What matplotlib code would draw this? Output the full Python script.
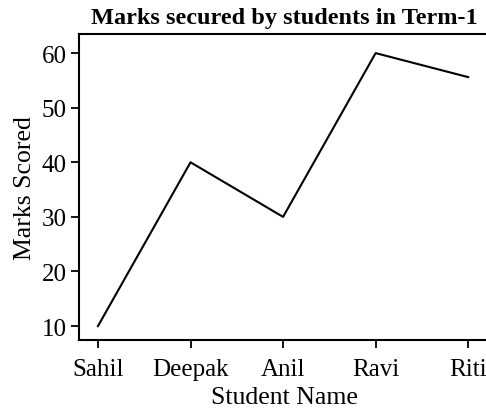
import matplotlib
matplotlib.use("Agg")
import matplotlib.pyplot as plt

students = ["Sahil", "Deepak", "Anil", "Ravi", "Riti"]
marks = [10, 40, 30, 60, 55.6]

plt.rcParams['font.family'] = ['Liberation Serif', 'DejaVu Serif']

fig = plt.figure(figsize=(4.86, 4.10), dpi=100)
# the right edge of the axes sits just past the image border, as in the original
ax = fig.add_axes([79 / 486, 1 - 341 / 410, (489 - 79) / 486, (341 - 35) / 410])

ax.plot(range(len(students)), marks, color='black', linewidth=1.5)

ax.set_xticks(range(len(students)))
ax.set_xticklabels(students)
ax.set_xlim(-0.205, 4.225)
ax.set_ylim(7.45, 63.5)
ax.set_yticks([10, 20, 30, 40, 50, 60])

ax.tick_params(axis='both', direction='out', length=6, width=1.3, labelsize=18, color='black', pad=3)
ax.tick_params(axis='x', pad=7)
for side in ['left', 'bottom', 'top', 'right']:
    ax.spines[side].set_linewidth(1.5)

ax.set_xlabel('Student Name', fontsize=18.5, labelpad=4)
ax.set_ylabel('Marks Scored', fontsize=18.5, labelpad=4)
ax.set_title('Marks secured by students in Term-1', fontsize=17.5, fontweight='bold', pad=8)

fig.savefig('out.png', dpi=100)
